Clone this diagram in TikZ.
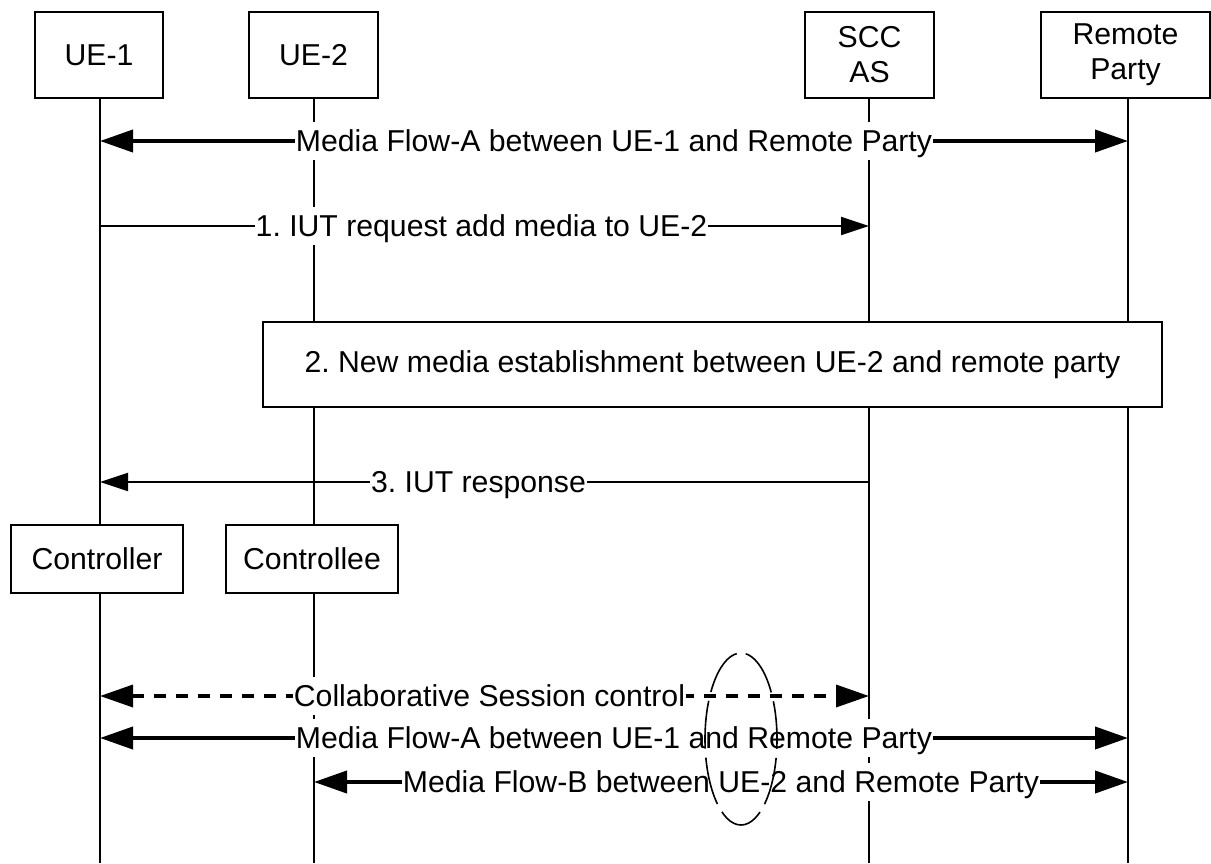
\documentclass[tikz,border=0pt]{standalone}
\usepackage{fontspec}
\setmainfont{Liberation Sans}
\usetikzlibrary{arrows.meta}
\frenchspacing
\begin{document}
\frenchspacing
\begin{tikzpicture}[x=1pt,y=-1pt,
  every node/.style={font=\fontsize{30.2pt}{35pt}\selectfont},
  ent/.style={draw, line width=2pt, fill=white, align=center, inner sep=0pt},
  life/.style={line width=2pt},
  lbl/.style={fill=white, inner xsep=1pt, inner ysep=2pt, text height=27pt, text depth=7pt},
  thinmsg/.style={line width=2pt, -{Triangle[length=28pt,width=18pt]}},
  thickmsg/.style={line width=4pt, {Triangle[length=33pt,width=22pt]}-{Triangle[length=33pt,width=22pt]}},
  dashmsg/.style={line width=3.5pt, dash pattern=on 12pt off 10pt, {Triangle[length=33pt,width=22pt]}-{Triangle[length=33pt,width=22pt]}},
  grp/.style={line width=1.6pt, dash pattern=on 48pt off 9.1pt, dash phase=10pt}
]
\useasboundingbox (0,0) rectangle (1211,863);

% lifeline coordinates
\coordinate (L1t) at (100,98);  \coordinate (L1b) at (100,863);
\coordinate (L2t) at (314,98);  \coordinate (L2b) at (314,863);
\coordinate (L3t) at (869,98);  \coordinate (L3b) at (869,863);
\coordinate (L4t) at (1128,98); \coordinate (L4b) at (1128,863);

\draw[life] (L1t) -- (L1b);
\draw[life] (L2t) -- (L2b);
\draw[life] (L3t) -- (L3b);
\draw[life] (L4t) -- (L4b);

% entity boxes
\node[ent, minimum width=128pt, minimum height=86pt] (ue1) at (99,55) {UE-1};
\node[ent, minimum width=129pt, minimum height=86pt] (ue2) at (313.5,55) {UE-2};
\node[ent, minimum width=129pt, minimum height=86pt] (scc) at (869.5,55) {SCC\\AS};
\node[ent, minimum width=169pt, minimum height=86pt] (rp) at (1125.5,55) {Remote\\Party};

\node[ent, minimum width=899pt, minimum height=85pt] (step2) at (712.5,364.5) {2. New media establishment between UE-2 and remote party};

\node[ent, minimum width=172pt, minimum height=68pt] (ctrl) at (97,559) {Controller};
\node[ent, minimum width=172pt, minimum height=68pt] (ctrlee) at (312,559) {Controllee};

% message coordinates
\coordinate (fa1) at (100,141);  \coordinate (fa2) at (1128,141);
\coordinate (m1a) at (100,226);  \coordinate (m1b) at (869,226);
\coordinate (m3a) at (869,482);  \coordinate (m3b) at (100,482);
\coordinate (cs1) at (100,696);  \coordinate (cs2) at (869,696);
\coordinate (fb1) at (100,738);  \coordinate (fb2) at (1128,738);
\coordinate (fc1) at (314,782);  \coordinate (fc2) at (1128,782);

\draw[thickmsg] (fa1) -- node[lbl] {Media Flow-A between UE-1 and Remote Party} (fa2);
\draw[thinmsg] (m1a) -- node[lbl, xshift=-3pt] {1. IUT request add media to UE-2} (m1b);
\draw[thinmsg] (m3a) -- node[lbl, xshift=-6pt] {3. IUT response} (m3b);
\draw[dashmsg] (cs1) -- node[lbl, xshift=5pt] {Collaborative Session control} (cs2);
\draw[thickmsg] (fb1) -- node[lbl] {Media Flow-A between UE-1 and Remote Party} (fb2);
\draw[thickmsg] (fc1) -- node[lbl] {Media Flow-B between UE-2 and Remote Party} (fc2);

% grouping ellipse
\draw[grp] (741,739) ellipse [x radius=36pt, y radius=86pt];
\end{tikzpicture}
\end{document}
